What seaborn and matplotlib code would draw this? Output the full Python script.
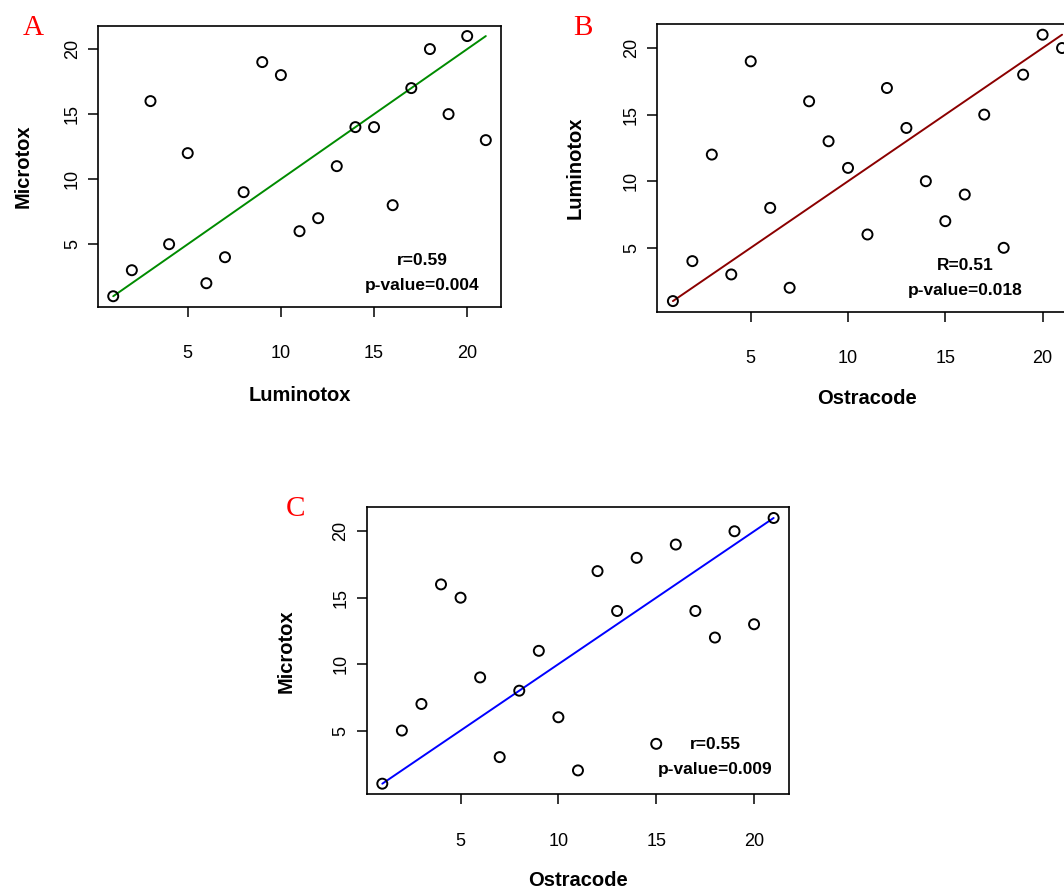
import pandas as pd
import seaborn as sns
import matplotlib.pyplot as plt

# rank data, one row per sample (ordered by Ostracode rank)
ostracode = [1, 2, 3, 4, 5, 6, 7, 8, 9, 10, 11, 12, 13, 14, 15, 16, 17, 18, 19, 20, 21]
luminotox = [1, 4, 12, 3, 19, 8, 2, 16, 13, 11, 6, 17, 14, 10, 7, 9, 15, 5, 18, 21, 20]
microtox = [1, 5, 7, 16, 15, 9, 3, 8, 11, 6, 2, 17, 14, 18, 4, 19, 14, 12, 20, 13, 21]

# reference line (y = x) end points
fit_x = [1, 21]
fit_y = [1, 21]

stats_a = ["r=0.59", "p-value=0.004"]
stats_b = ["R=0.51", "p-value=0.018"]
stats_c = ["r=0.55", "p-value=0.009"]

ticks = [5, 10, 15, 20]

df = pd.DataFrame({"Ostracode": ostracode, "Luminotox": luminotox, "Microtox": microtox})

sns.set_theme(style="ticks")
plt.rcParams['font.family'] = ['Liberation Sans', 'DejaVu Sans']
plt.rcParams['text.color'] = 'black'
plt.rcParams['axes.labelcolor'] = 'black'
plt.rcParams['axes.linewidth'] = 1.2
plt.rcParams['axes.edgecolor'] = 'black'
plt.rcParams['xtick.major.size'] = 7.5
plt.rcParams['ytick.major.size'] = 7.5
plt.rcParams['xtick.major.width'] = 1.1
plt.rcParams['ytick.major.width'] = 1.1
plt.rcParams['xtick.color'] = 'black'
plt.rcParams['ytick.color'] = 'black'

fig = plt.figure(figsize=(10.64, 8.94), dpi=100)

panels = [
    # position, x col, y col, line colour, stats text, text x, text y, letter, letter pos, label coords
    ([0.0924, 0.657, 0.3782, 0.3143], "Luminotox", "Microtox", "#008B00", stats_a, 17.6, [3.75, 1.8],
     "A", (0.031, 0.9687), (-0.187, -0.318)),
    ([0.6178, 0.6513, 0.395, 0.3218], "Ostracode", "Luminotox", "#8B0000", stats_b, 16.0, [3.7, 1.8],
     "B", (0.548, 0.9687), (-0.196, -0.300)),
    ([0.3446, 0.1115, 0.3972, 0.321], "Ostracode", "Microtox", "#0000FF", stats_c, 18.0, [3.97, 2.1],
     "C", (0.278, 0.4306), (-0.191, -0.302)),
]

for pos, xcol, ycol, col, stats, tx, tys, letter, lpos, lab in panels:
    ax = fig.add_axes(pos)
    sns.lineplot(x=fit_x, y=fit_y, color=col, linewidth=1.4, ax=ax)
    sns.scatterplot(data=df, x=xcol, y=ycol, marker='o', s=52, facecolor='none',
                    edgecolor='black', linewidth=1.4, ax=ax, zorder=3)
    ax.set_xlim(0.2, 21.8)
    ax.set_ylim(0.2, 21.8)
    ax.set_xticks(ticks)
    ax.set_yticks(ticks)
    ax.tick_params(axis='x', labelsize=13, pad=20)
    ax.tick_params(axis='y', labelsize=13, pad=5, labelrotation=90)
    for t in ax.get_yticklabels():
        t.set_va('center')
    ax.set_xlabel(xcol, fontsize=14.5, fontweight='bold', va='center')
    ax.set_ylabel(ycol, fontsize=14.5, fontweight='bold', va='center')
    ax.xaxis.set_label_coords(0.5, lab[1])
    ax.yaxis.set_label_coords(lab[0], 0.5)
    for s, ty in zip(stats, tys):
        ax.text(tx, ty, s, ha='center', va='center', fontsize=12.5, fontweight='bold')
    fig.text(lpos[0], lpos[1], letter, ha='center', va='center', color='red',
             fontsize=21, family='Liberation Serif')

plt.savefig('out.png', dpi=100)
